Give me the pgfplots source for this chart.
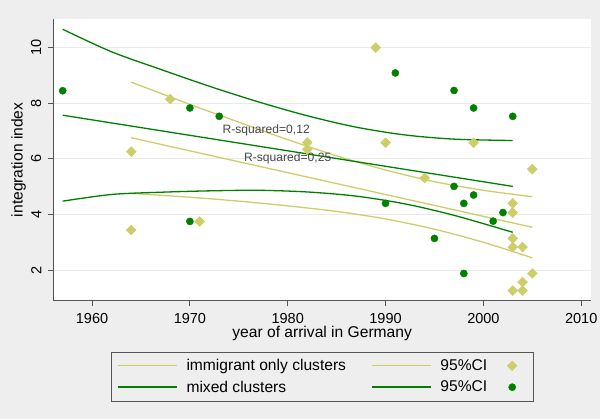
\documentclass[border=0pt]{standalone}
\usepackage{fontspec}
\setmainfont{Liberation Sans}
\usepackage{pgfplots}
\pgfplotsset{compat=1.18}
\definecolor{bgc}{RGB}{238,238,238}
\definecolor{gridc}{RGB}{234,234,234}
\definecolor{cyel}{RGB}{205,205,105}
\definecolor{cgrn}{RGB}{0,128,0}
\definecolor{axc}{RGB}{85,85,85}
\definecolor{rtxt}{RGB}{70,70,70}
\pgfplotsset{
  legline/.style={legend image code/.code={\draw[##1, line width=1.4pt] (0pt,0pt) -- (59pt,0pt);}},
  legmark/.style={legend image code/.code={\draw[##1, line width=0.4pt] plot coordinates {(0pt,0pt)};}},
  ydia/.style={only marks, mark=square*, mark size=3.5pt, mark options={rotate=45, fill=cyel, draw=cyel}},
  gdot/.style={only marks, mark=*, mark size=3.6pt, mark options={fill=cgrn, draw=cgrn}},
}
\begin{document}
\begin{tikzpicture}
\fill[bgc] (0,0) rectangle (600pt,419pt);
\useasboundingbox (0,0) rectangle (600pt,419pt);
\begin{axis}[
  at={(53.3pt,118.3pt)}, anchor=south west,
  scale only axis, width=537.7pt, height=281.7pt,
  xmin=1956.04, xmax=2011.0, ymin=0.9, ymax=11.03,
  axis x line*=bottom, axis y line*=left,
  axis line style={-, draw=axc, line width=0.8pt},
  axis background/.style={fill=white},
  xtick={1960,1970,...,2010}, ytick={2,4,...,10},
  xtick pos=left, ytick pos=left,
  tick align=outside, major tick length=5.5pt,
  tick style={draw=axc, line width=0.8pt},
  ymajorgrids, major grid style={draw=gridc, line width=0.9pt},
  /pgf/number format/1000 sep={},
  /pgf/number format/assume math mode=true,
  tick label style={font=\fontsize{14.5}{17}\selectfont, text=black},
  yticklabel style={rotate=90, anchor=south},
  xticklabel shift=3.5pt, yticklabel shift=3pt,
  xlabel={year of arrival in Germany},
  ylabel={integration index},
  every axis x label/.style={at={(axis description cs:0.5,-0.118)}, anchor=center, font=\fontsize{15.6}{18}\selectfont},
  every axis y label/.style={at={(axis description cs:-0.0644,0.5)}, rotate=90, anchor=center, font=\fontsize{15.6}{18}\selectfont},
  legend columns=3,
  legend cell align=left,
  legend style={at={(0.5,-0.181)}, anchor=north, draw=axc, fill=bgc,
    font=\fontsize{15.6}{18}\selectfont, inner xsep=6pt, inner ysep=7.5pt,
    nodes={inner sep=0pt},
    column sep=9pt, row sep=8.6pt,
    /tikz/column 2/.style={column sep=25pt},
    /tikz/column 4/.style={column sep=20pt}},
]
% immigrant only clusters: CI and fit
\addplot[cyel, line width=1.3pt, smooth, forget plot] coordinates {
(1964,8.76)(1970,7.96)(1975,7.32)(1980,6.69)(1985,6.11)(1990,5.60)(1995,5.18)(2000,4.87)(2005,4.64)};
\addplot[cyel, line width=1.3pt, smooth, forget plot] coordinates {
(1964,4.76)(1970,4.62)(1975,4.48)(1980,4.31)(1985,4.11)(1990,3.84)(1995,3.47)(2000,3.00)(2005,2.44)};
\addplot[cyel, line width=1.3pt, forget plot] coordinates {(1964,6.76)(2005,3.54)};
% mixed clusters: CI and fit
\addplot[cgrn, line width=1.3pt, smooth, forget plot] coordinates {
(1957,10.66)(1962,9.85)(1967,9.22)(1972,8.61)(1977,8.05)(1982,7.55)(1987,7.14)(1992,6.86)(1997,6.71)(2003,6.66)};
\addplot[cgrn, line width=1.3pt, smooth, forget plot] coordinates {
(1957,4.48)(1962,4.72)(1967,4.80)(1972,4.85)(1977,4.87)(1982,4.81)(1987,4.66)(1992,4.38)(1997,3.97)(2003,3.36)};
\addplot[cgrn, line width=1.3pt, forget plot] coordinates {(1957,7.57)(2003,5.01)};
% scatter
\addplot[ydia, forget plot] coordinates {
(1964,6.26)(1968,8.15)(1964,3.44)(1971,3.75)(1982,6.59)(1982,6.34)(1989,10.0)(1990,6.58)(1999,6.58)(1994,5.31)
(2005,5.63)(2003,4.40)(2003,4.07)(2003,3.14)(2003,2.83)(2004,2.83)(2005,1.88)(2004,1.57)(2003,1.26)(2004,1.26)};
\addplot[gdot, forget plot] coordinates {
(1957,8.45)(1970,7.83)(1973,7.53)(1970,3.75)(1991,9.09)(1997,8.46)(1999,7.83)(2003,7.53)
(1997,5.01)(1999,4.70)(1998,4.40)(1990,4.40)(2002,4.07)(2001,3.76)(1995,3.14)(1998,1.88)};
\node[font=\fontsize{12.1}{14}\selectfont, text=rtxt] at (axis cs:1977.8,7.01) {R-squared=0,12};
\node[font=\fontsize{12.1}{14}\selectfont, text=rtxt] at (axis cs:1980.0,6.02) {R-squared=0,25};
% legend
\addlegendimage{legline, cyel}
\addlegendentry{immigrant only clusters}
\addlegendimage{legline, cyel}
\addlegendentry{95\%CI}
\addlegendimage{legmark, ydia}
\addlegendentry{\mbox{}}
\addlegendimage{legline, cgrn}
\addlegendentry{mixed clusters}
\addlegendimage{legline, cgrn}
\addlegendentry{95\%CI}
\addlegendimage{legmark, gdot}
\addlegendentry{\mbox{}}
\end{axis}
\end{tikzpicture}
\end{document}
